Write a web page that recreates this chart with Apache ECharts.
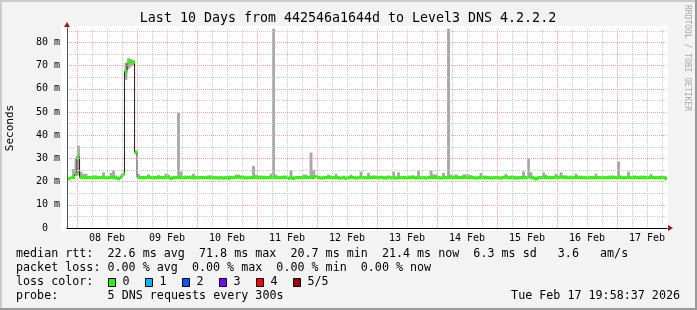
<!DOCTYPE html>
<html><head><meta charset="utf-8">
<script src="https://cdn.jsdelivr.net/npm/echarts@6/dist/echarts.min.js"></script>
<style>html,body{margin:0;padding:0;background:#f3f3f3}#c{width:697px;height:310px}</style>
</head><body><div id="c"></div>
<script>
// ---------------- data ----------------
const TITLE = 'Last 10 Days from 442546a1644d to Level3 DNS 4.2.2.2';
const Y_LABEL = 'Seconds';
// time axis in hours after Feb 07 00:00
const START_HOUR = 19.977;   // Feb 07 19:58:37
const END_HOUR = 259.977;    // Feb 17 19:58:37
const FIRST_BIN_HOUR = 20;   // hourly bins
const dayLabels = ['08 Feb','09 Feb','10 Feb','11 Feb','12 Feb','13 Feb','14 Feb','15 Feb','16 Feb','17 Feb'];
const dayLabelHours = [36, 60, 84, 108, 132, 156, 180, 204, 228, 252];
const midnightHours = [24, 48, 72, 96, 120, 144, 168, 192, 216, 240];
const sixHourHours = [30, 36, 42, 54, 60, 66, 78, 84, 90, 102, 108, 114, 126, 132, 138, 150, 156, 162,
  174, 180, 186, 198, 204, 210, 222, 228, 234, 246, 252, 258];
const yTickValues = [0, 10, 20, 30, 40, 50, 60, 70, 80];
const yMinorValues = [5, 15, 25, 35, 45, 55, 65, 75, 85];
const Y_MAX = 86.2;

// median rtt (ms), one value per hour
const median = [
  21.2,21.6,21.8,23.0,31.1,21.8,21.7,21.6,21.7,21.8,21.7,21.6,21.7,21.8,21.7,21.6,21.7,21.8,21.7,21.6,21.2,22.0,23.2,67.5,
  71.2,71.8,71.5,32.7,21.8,21.7,21.6,21.7,21.9,21.7,21.6,21.7,21.7,21.8,21.7,21.7,21.8,21.3,21.7,21.7,21.8,21.7,21.6,21.7,
  21.8,21.7,21.6,21.7,21.7,21.8,21.7,21.6,21.7,21.7,21.6,21.7,21.5,21.6,21.5,21.6,21.3,21.8,21.7,21.9,21.9,21.8,21.7,21.6,
  21.6,21.7,21.7,21.8,21.7,21.7,21.6,21.7,21.7,21.8,21.8,21.7,21.6,21.7,21.8,21.8,21.3,21.8,21.3,21.7,21.7,21.7,21.8,21.8,
  21.7,21.8,21.7,22.2,21.6,21.5,21.6,21.7,21.8,21.7,21.6,21.7,21.6,21.5,21.7,21.4,21.7,21.8,21.7,21.5,21.7,21.8,21.7,21.6,
  21.7,21.7,21.7,21.8,21.6,21.9,21.6,21.5,21.9,21.6,21.7,21.5,21.7,21.6,21.7,21.6,21.7,21.7,21.8,21.5,21.7,21.6,21.7,21.5,
  21.7,21.8,21.7,21.8,21.6,21.5,21.7,21.6,21.7,21.8,21.7,21.8,21.7,21.6,21.8,21.8,21.7,21.7,21.6,21.5,21.6,21.7,21.6,21.7,
  21.6,21.5,21.6,21.7,21.6,21.5,21.8,21.9,21.6,21.7,21.6,21.5,21.6,21.7,21.8,21.6,22.0,21.8,21.5,21.1,21.6,21.7,21.8,21.8,
  21.7,21.6,21.7,21.9,21.8,21.9,21.8,21.7,21.6,21.7,21.6,21.8,21.7,21.7,21.6,21.7,21.6,21.7,21.6,21.7,21.7,21.6,21.7,21.6,
  21.7,21.7,21.8,21.7,21.8,21.7,21.6,21.7,21.8,21.6,21.7,21.7,21.6,21.7,21.6,21.7,21.6,21.8,21.7,21.6,21.7,21.6,21.7,21.4
];
// smoke: highest ping per hour (ms)
const smokeMax = [
  21.8,22.0,25.4,29.8,35.5,24.3,23.3,23.4,22.4,22.4,22.7,22.7,22.3,22.3,24.0,22.2,22.2,23.8,24.8,22.6,22.0,22.5,23.6,71.1,
  73.2,72.8,72.3,33.5,23.3,22.4,22.5,22.3,23.1,22.5,22.3,22.4,22.8,22.4,22.5,23.4,23.0,22.2,22.4,22.3,49.7,24.4,22.6,22.6,
  22.5,22.6,23.4,22.3,22.3,22.3,22.2,22.3,22.7,22.7,22.4,22.3,22.2,22.3,22.2,22.4,22.6,22.3,22.2,23.0,23.0,22.6,22.6,22.2,
  22.2,22.3,26.8,23.0,22.6,22.6,22.6,22.3,22.3,23.4,85.9,23.0,22.3,22.3,22.6,22.6,22.2,24.9,22.3,22.4,22.4,22.5,23.0,23.0,
  22.5,32.5,25.1,22.8,22.3,22.2,22.3,22.4,23.0,22.6,22.4,23.4,22.3,22.1,22.6,22.2,22.3,23.0,22.4,22.2,22.3,24.3,22.3,22.3,
  23.8,22.6,22.6,22.6,22.4,22.5,22.3,22.4,22.6,22.3,24.3,22.2,24.0,22.3,22.3,22.2,22.6,22.6,22.7,22.3,24.8,22.3,22.3,22.2,
  22.3,24.8,23.1,23.1,22.4,22.2,23.7,22.4,85.9,23.0,22.6,23.1,22.6,22.4,23.1,23.1,23.1,22.8,22.4,22.2,22.3,23.7,22.6,22.6,
  22.3,22.3,22.2,22.3,22.3,22.2,22.5,23.3,22.3,22.6,22.6,22.3,22.3,22.4,24.4,22.4,29.9,24.0,22.3,22.0,22.3,22.4,24.0,23.0,
  22.5,22.4,22.4,23.4,22.6,24.0,22.7,22.7,22.3,22.6,22.4,23.4,22.6,22.6,22.3,22.3,22.2,22.3,22.4,23.4,22.4,22.3,22.3,22.2,
  22.6,22.6,22.6,22.4,28.7,22.6,22.3,22.3,24.3,22.3,22.6,22.6,22.3,22.6,22.6,22.4,22.3,23.3,22.4,22.3,22.3,22.6,22.4,22.2
];
// smoke: lowest ping per hour (ms)
const smokeMin = [
  20.9,21.2,21.3,22.4,22.8,21.3,21.2,21.2,21.3,21.3,21.2,21.2,21.3,21.3,21.2,21.2,21.2,21.3,21.2,21.2,20.9,21.5,22.6,63.9,
  68.6,69.5,70.2,31.6,21.3,21.2,21.2,21.2,21.4,21.2,21.2,21.2,21.3,21.3,21.2,21.2,21.3,20.9,21.2,21.2,21.3,21.2,21.2,21.2,
  21.3,21.2,21.2,21.2,21.2,21.3,21.2,21.2,21.2,21.2,21.2,21.2,21.1,21.2,21.1,21.2,20.9,21.3,21.2,21.4,21.4,21.3,21.2,21.2,
  21.2,21.2,21.2,21.3,21.2,21.2,21.2,21.2,21.2,21.3,21.3,21.2,21.2,21.2,21.3,21.3,20.9,21.3,20.9,21.2,21.2,21.2,21.3,21.3,
  21.2,21.3,21.2,21.6,21.2,21.1,21.2,21.2,21.3,21.2,21.2,21.2,21.2,21.1,21.2,21.0,21.2,21.3,21.2,21.1,21.2,21.3,21.2,21.2,
  21.2,21.2,21.2,21.3,21.2,21.4,21.2,21.1,21.4,21.2,21.2,21.1,21.2,21.2,21.2,21.2,21.2,21.2,21.3,21.1,21.2,21.2,21.2,21.1,
  21.2,21.3,21.2,21.3,21.2,21.1,21.2,21.2,21.2,21.3,21.2,21.3,21.2,21.2,21.3,21.3,21.2,21.2,21.2,21.1,21.2,21.2,21.2,21.2,
  21.2,21.1,21.2,21.2,21.2,21.1,21.3,21.4,21.2,21.2,21.2,21.1,21.2,21.2,21.3,21.2,21.5,21.3,21.1,20.7,21.2,21.2,21.3,21.3,
  21.2,21.2,21.2,21.4,21.3,21.4,21.3,21.2,21.2,21.2,21.2,21.3,21.2,21.2,21.2,21.2,21.2,21.2,21.2,21.2,21.2,21.2,21.2,21.2,
  21.2,21.2,21.3,21.2,21.3,21.2,21.2,21.2,21.3,21.2,21.2,21.2,21.2,21.2,21.2,21.2,21.2,21.3,21.2,21.2,21.2,21.2,21.2,21.0
];
// legend texts
const rttStats = ['22.6 ms avg', '71.8 ms max', '20.7 ms min', '21.4 ms now', '6.3 ms sd', '3.6', 'am/s'];
const lossStats = ['0.00 % avg', '0.00 % max', '0.00 % min', '0.00 % now'];
const lossLabels = ['0', '1', '2', '3', '4', '5/5'];
const lossColors = ['#26ff00', '#00b8ff', '#0059ff', '#7e00ff', '#ff0000', '#a10000'];
const probeText = '5 DNS requests every 300s';
const stampText = 'Tue Feb 17 19:58:37 2026';
const watermark = 'RRDTOOL / TOBI OETIKER';

// ---------------- chart ----------------
const FONT = '"DejaVu Sans Mono", monospace';
const LEG_FONT = '11.7px ' + FONT;
const chart = echarts.init(document.getElementById('c'), null, {renderer: 'canvas', width: 697, height: 310});

const bins = median.map((m, i) => [FIRST_BIN_HOUR + i, FIRST_BIN_HOUR + i + 1, smokeMin[i], smokeMax[i], m]);
const medianLine = median.map((m, i) => [FIRST_BIN_HOUR + i, m]);
medianLine.push([FIRST_BIN_HOUR + median.length, median[median.length - 1]]);

function clip(r, params) {
  const cs = params.coordSys;
  return echarts.graphic.clipRectByRect(r, {x: cs.x, y: cs.y, width: cs.width, height: cs.height});
}

const MINOR = {color: '#c8c8c8', type: [1, 1], width: 1};
const MAJOR = {color: '#f2a0a0', type: [1, 1], width: 1};
const gridLines = []
  .concat(sixHourHours.map(h => ({xAxis: h, lineStyle: MINOR})))
  .concat(yMinorValues.map(v => ({yAxis: v, lineStyle: MINOR})))
  .concat(midnightHours.map(h => ({xAxis: h, lineStyle: MAJOR})))
  .concat(yTickValues.filter(v => v > 0).map(v => ({yAxis: v, lineStyle: MAJOR})));

const texts = [];
function txt(text, x, y, extra) {
  texts.push(Object.assign({type: 'text', x: x, y: y, silent: true, z: 10,
    style: Object.assign({text: text, fill: '#000', font: LEG_FONT, align: 'left', verticalAlign: 'middle'}, extra || {})}));
}
// title
txt(TITLE, 348, 19, {align: 'center', font: '13.3px ' + FONT});
// legend rows (monospace columns)
const line1 = 'median rtt:  ' + rttStats.slice(0, 5).join('  ') + '   ' + rttStats[5] + '   ' + rttStats[6];
const line2 = 'packet loss: ' + lossStats.join('  ');
txt(line1, 16, 254);
txt(line2, 16, 268);
txt('loss color:', 16, 282);
const boxX = [108, 145, 182, 219, 256, 293];
const boxes = lossColors.map((c, i) => ({type: 'rect', silent: true, z: 10,
  shape: {x: boxX[i] + 0.5, y: 278.5, width: 7, height: 8},
  style: {fill: c, stroke: '#000', lineWidth: 1}}));
lossLabels.forEach((s, i) => txt(s, boxX[i] + 14.5, 282));
txt('probe:', 16, 296);
txt(probeText, 107.6, 296);
txt(stampText, 680, 296, {align: 'right'});

const graphics = [
  {type: 'rect', silent: true, z: -100, shape: {x: 0, y: 0, width: 697, height: 310}, style: {fill: '#f3f3f3'}},
  {type: 'rect', silent: true, z: -99, shape: {x: 61, y: 26, width: 607, height: 205}, style: {fill: '#ffffff'}},
  {type: 'rect', silent: true, z: -98, shape: {x: 0, y: 0, width: 697, height: 2}, style: {fill: '#cbcbcb'}},
  {type: 'rect', silent: true, z: -98, shape: {x: 0, y: 0, width: 2, height: 310}, style: {fill: '#cbcbcb'}},
  {type: 'rect', silent: true, z: -98, shape: {x: 0, y: 308, width: 697, height: 2}, style: {fill: '#999999'}},
  {type: 'rect', silent: true, z: -98, shape: {x: 695, y: 0, width: 2, height: 310}, style: {fill: '#999999'}},
  {type: 'text', silent: true, z: 10, x: 10, y: 128, rotation: Math.PI / 2,
    style: {text: Y_LABEL, fill: '#000', font: '11px ' + FONT, align: 'center', verticalAlign: 'middle'}},
  {type: 'text', silent: true, z: 10, x: 687, y: 5, rotation: -Math.PI / 2,
    style: {text: watermark, fill: '#a8a8a8', font: '8px ' + FONT, align: 'left', verticalAlign: 'middle'}}
].concat(texts).concat(boxes);

const option = {
  animation: false,
  backgroundColor: '#f3f3f3',
  grid: {left: 67, top: 28, width: 600, height: 200, containLabel: false},
  xAxis: [{
    type: 'value', min: START_HOUR, max: END_HOUR, z: 5,
    axisLine: {show: true, onZero: false, lineStyle: {color: '#000', width: 1}},
    axisTick: {show: false}, splitLine: {show: false},
    axisLabel: {customValues: dayLabelHours, margin: 5, color: '#000', fontFamily: FONT, fontSize: 10,
      formatter: v => dayLabels[Math.round((v - dayLabelHours[0]) / 24)]}
  }, {
    type: 'value', min: START_HOUR, max: END_HOUR, position: 'bottom', z: 4,
    axisLine: {show: true, onZero: false, symbol: ['none', 'triangle'], symbolSize: [6, 5], symbolOffset: [0, 3.5],
      lineStyle: {color: '#a01818', width: 1}},
    axisTick: {show: false}, splitLine: {show: false}, axisLabel: {show: false}
  }],
  yAxis: [{
    type: 'value', min: 0, max: Y_MAX, z: 5,
    axisLine: {show: true, onZero: false, lineStyle: {color: '#555', width: 1}},
    axisTick: {show: false}, splitLine: {show: false},
    axisLabel: {customValues: yTickValues, margin: 7, color: '#000', fontFamily: FONT, fontSize: 10,
      formatter: v => v === 0 ? '0  ' : v + ' m'}
  }, {
    type: 'value', min: 0, max: Y_MAX, position: 'left', z: 4,
    axisLine: {show: true, onZero: false, symbol: ['none', 'triangle'], symbolSize: [6, 5], symbolOffset: [0, 3.5],
      lineStyle: {color: '#a01818', width: 1}},
    axisTick: {show: false}, splitLine: {show: false}, axisLabel: {show: false}
  }],
  series: [{
    type: 'line', data: [], z: 1, silent: true,
    markLine: {silent: true, symbol: 'none', label: {show: false}, animation: false, data: gridLines}
  }, {
    type: 'custom', z: 2, silent: true, data: bins,
    encode: {x: [0, 1], y: [2, 3]},
    renderItem: function (params, api) {
      const a = api.coord([api.value(0), api.value(3)]);
      const b = api.coord([api.value(1), api.value(2)]);
      const r = clip({x: a[0], y: a[1], width: b[0] - a[0] + 0.4, height: Math.max(b[1] - a[1], 1)}, params);
      return r && {type: 'rect', shape: r, style: {fill: '#a8a8a8'}};
    }
  }, {
    type: 'line', z: 3, silent: true, data: medianLine, step: 'end', showSymbol: false, symbol: 'none',
    lineStyle: {color: '#202020', width: 1}
  }, {
    type: 'custom', z: 4, silent: true, data: bins,
    encode: {x: [0, 1], y: [4]},
    renderItem: function (params, api) {
      const a = api.coord([api.value(0), api.value(4)]);
      const b = api.coord([api.value(1), api.value(4)]);
      const r = clip({x: a[0], y: a[1] - 1.5, width: b[0] - a[0] + 0.4, height: 3}, params);
      return r && {type: 'rect', shape: r, style: {fill: lossColors[0]}};
    }
  }],
  graphic: {elements: graphics}
};
chart.setOption(option);
</script>
</body></html>
